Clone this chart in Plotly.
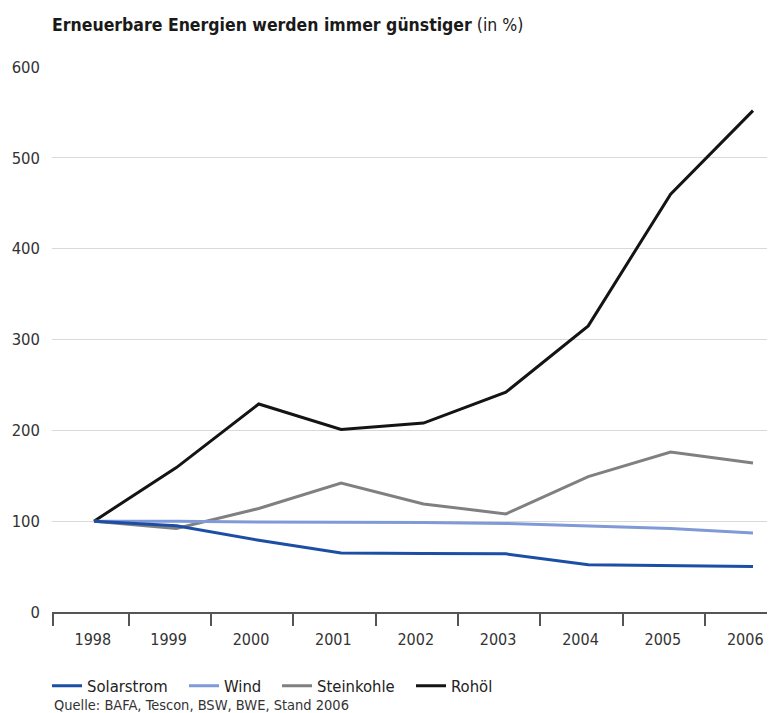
import plotly.graph_objects as go

years = [1998, 1999, 2000, 2001, 2002, 2003, 2004, 2005, 2006]
year_labels = [str(y) for y in years]
solarstrom = [100, 95, 79, 65, 64.5, 64, 52, 51, 50]
wind = [100, 100, 99, 99, 98.5, 97.5, 95, 92, 87]
steinkohle = [100, 92, 114, 142, 119, 108, 149, 176, 164]
rohoel = [100, 159, 229, 201, 208, 242, 315, 460, 552]
y_ticks = [0, 100, 200, 300, 400, 500, 600]

FONT = "DejaVu Sans Condensed, Liberation Sans Narrow, Arial Narrow, sans-serif"
W, H = 770, 713

# name, values, colour, width, legend id, legend left edge (px)
series = [
    ("Steinkohle", steinkohle, "#808080", 3, "legend3", 277),
    ("Rohöl", rohoel, "#141414", 3, "legend4", 411),
    ("Wind", wind, "#7f9ad6", 3, "legend2", 184),
    ("Solarstrom", solarstrom, "#1c4ea6", 3, "legend", 47),
]

fig = go.Figure()
legend_layout = {}
for name, vals, color, width, leg, left in series:
    fig.add_trace(go.Scatter(
        x=years, y=vals, name=name, mode="lines",
        line=dict(color=color, width=width),
        legend=leg,
    ))
    legend_layout[leg] = dict(
        orientation="h", xref="container", yref="container",
        x=left / W, xanchor="left",
        y=1 - 686 / H, yanchor="middle",
        font=dict(family=FONT, size=16.5, color="#222222"),
        itemwidth=30, bgcolor="rgba(0,0,0,0)",
    )

# category boundaries: left edge plus between-year tick marks
boundaries = [years[0] - 0.5] + [y + 0.42 for y in years[:-1]]

fig.update_layout(
    width=W, height=H,
    margin=dict(l=52, r=3, t=67, b=101),
    paper_bgcolor="white", plot_bgcolor="white",
    font=dict(family=FONT, size=16, color="#333333"),
    title=dict(
        text="<b>Erneuerbare Energien werden immer günstiger</b> (in %)",
        x=0, xref="paper", xanchor="left",
        y=1 - 25 / H, yanchor="middle",
        font=dict(family=FONT, size=17.5, color="#1a1a1a"),
    ),
    xaxis=dict(
        range=[years[0] - 0.51, years[-1] + 0.17],
        tickvals=boundaries, ticktext=year_labels,
        ticklabelshift=40,
        ticks="outside", ticklen=12, tickwidth=1.5, tickcolor="#555555",
        showline=True, linecolor="#555555", linewidth=1.5,
        showgrid=False, zeroline=False,
        tickfont=dict(family=FONT, size=16, color="#333333"),
    ),
    yaxis=dict(
        range=[0, 600],
        tickvals=y_ticks,
        showgrid=True, gridcolor="#d9d9d9", gridwidth=1.2,
        zeroline=False, showline=False, ticks="",
        ticklabelstandoff=11,
        tickfont=dict(family=FONT, size=16.5, color="#333333"),
    ),
    showlegend=True,
    **legend_layout,
)

fig.add_annotation(
    text="Quelle: BAFA, Tescon, BSW, BWE, Stand 2006",
    xref="paper", yref="paper", x=0, y=(612 - 705) / 545,
    xanchor="left", yanchor="middle", showarrow=False,
    font=dict(family=FONT, size=14.5, color="#333333"),
)

fig.write_html(
    "out.html",
    config={"displayModeBar": False},
    post_script="document.body.style.margin='0';",
)
